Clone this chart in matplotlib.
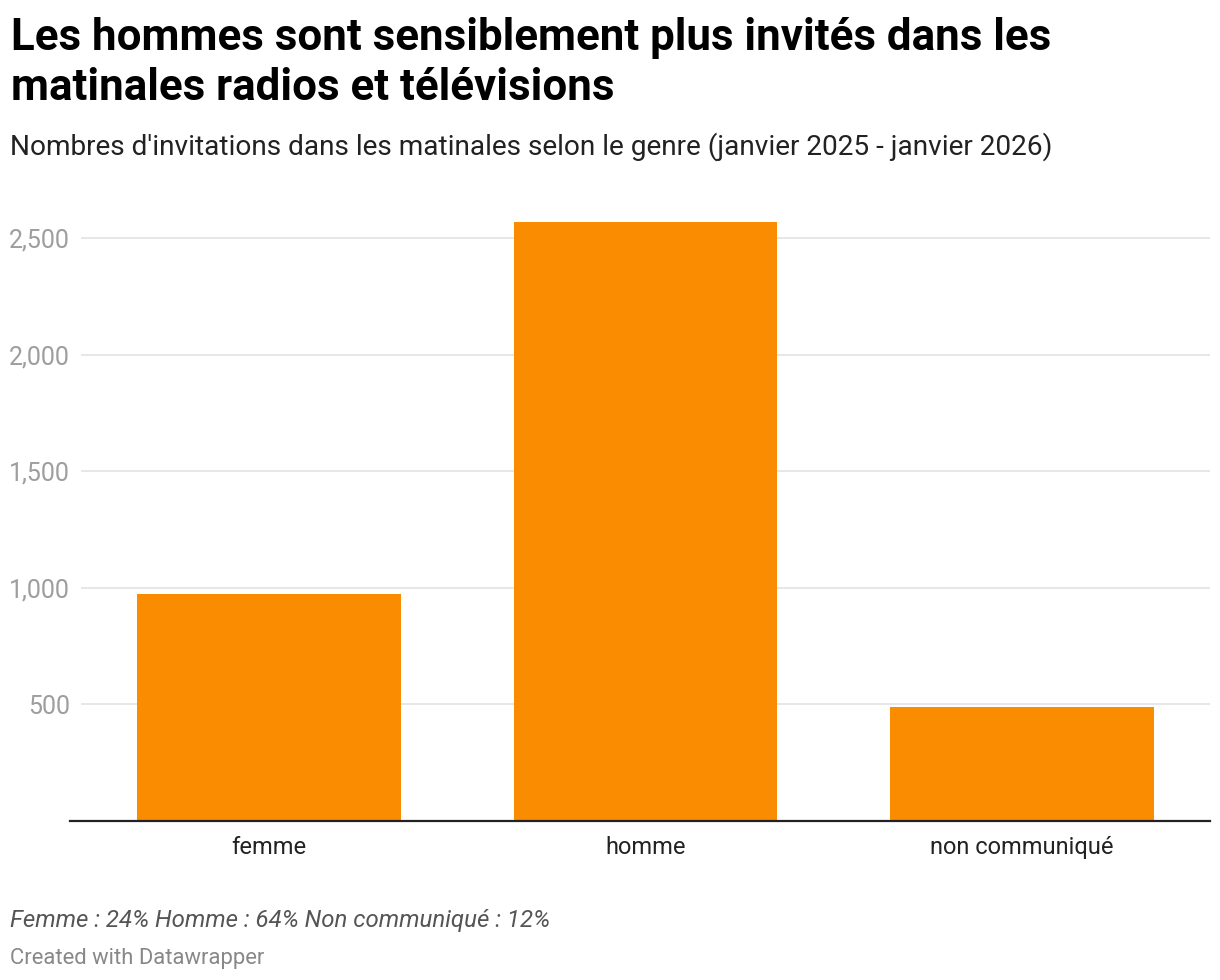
import matplotlib
matplotlib.use("Agg")
import matplotlib.pyplot as plt
from matplotlib.ticker import FuncFormatter

# Données
categories = ["femme", "homme", "non communiqué"]
invitations = [972, 2572, 487]
yticks = [500, 1000, 1500, 2000, 2500]

W, H = 1220, 980
plt.rcParams['font.family'] = ['Roboto', 'DejaVu Sans']

fig = plt.figure(figsize=(W / 100, H / 100), dpi=100)

# Zone du graphique (en pixels)
left, right, top, bottom = 81, 1210, 215, 821
ax = fig.add_axes([left / W, 1 - bottom / H, (right - left) / W, (bottom - top) / H])

x = list(range(len(categories)))
ax.bar(x, invitations, width=0.7, color="#F98C00", zorder=3)

ax.set_xlim(-0.5, len(categories) - 0.5)
ax.set_ylim(0, 2600)
ax.set_yticks(yticks)
ax.yaxis.set_major_formatter(FuncFormatter(lambda v, p: f"{int(v):,}"))
ax.grid(axis="y", color="#e5e5e5", linewidth=1.3, zorder=1)
ax.set_xticks(x)
ax.set_xticklabels(categories)

for s in ax.spines.values():
    s.set_visible(False)
ax.tick_params(axis="y", length=0, pad=8, labelsize=18, labelcolor="#9e9e9e")
ax.tick_params(axis="x", length=0, pad=11, labelsize=17, labelcolor="#222222")

# Ligne de base
ax.plot([-0.01, 1], [0, 0], transform=ax.get_yaxis_transform(), color="#222222",
        linewidth=1.6, clip_on=False, zorder=4)

def txt(px, py, s, **kw):
    fig.text(px / W, 1 - py / H, s, va="baseline", ha="left", **kw)

txt(11, 50, "Les hommes sont sensiblement plus invités dans les", fontsize=31.6,
    fontweight="bold", color="#000000")
txt(11, 100, "matinales radios et télévisions", fontsize=31.6,
    fontweight="bold", color="#000000")
txt(10, 155, "Nombres d'invitations dans les matinales selon le genre (janvier 2025 - janvier 2026)",
    fontsize=20.2, color="#222222")
txt(10, 927, "Femme : 24% Homme : 64% Non communiqué : 12%", fontsize=17.3,
    style="italic", color="#555555")
txt(10, 964, "Created with Datawrapper", fontsize=15.8, color="#888888")

fig.savefig("out.png", dpi=100, facecolor="white")
